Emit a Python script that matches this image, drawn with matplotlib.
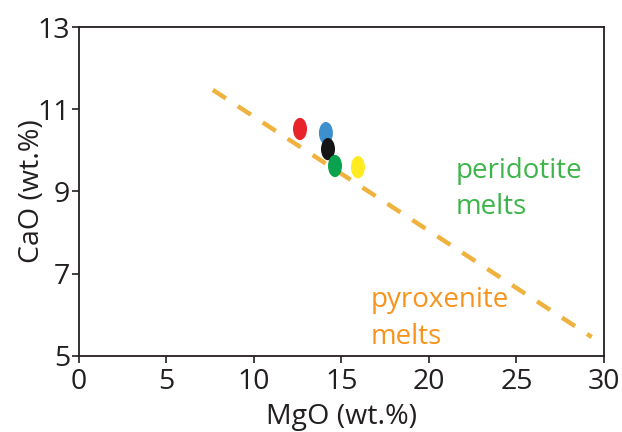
import numpy as np
import matplotlib.pyplot as plt
from matplotlib.patches import Ellipse

plt.rcParams['font.family'] = ['Open Sans', 'DejaVu Sans']

# sample compositions (MgO, CaO in wt.%)
mgo = [12.63, 14.11, 14.23, 14.63, 15.94]
cao = [10.52, 10.42, 10.03, 9.62, 9.59]
colors = ['#E8232A', '#3D8FCE', '#151515', '#0BA24E', '#FFEB1F']

# peridotite / pyroxenite divide
line_mgo = [7.65, 29.3]
line_cao = [11.47, 5.46]

fig = plt.figure(figsize=(6.22, 4.32), dpi=100)
ax = fig.add_axes([0.127, 0.176, 0.844, 0.7615])

ax.plot(line_mgo, line_cao, color='#F0B23E', lw=3.2, dashes=(3.5, 3.2), solid_capstyle='butt', zorder=1)

for x, y, c in zip(mgo, cao, colors):
    ax.add_patch(Ellipse((x, y), 0.8, 0.54, facecolor=c, edgecolor='none', zorder=2))

# field labels
ax.text(21.5, 9.33, 'peridotite', color='#3DB54A', fontsize=20, ha='left', va='baseline')
ax.text(21.5, 8.45, 'melts', color='#3DB54A', fontsize=20, ha='left', va='baseline')
ax.text(16.65, 6.19, 'pyroxenite', color='#F7941D', fontsize=20, ha='left', va='baseline')
ax.text(16.65, 5.29, 'melts', color='#F7941D', fontsize=20, ha='left', va='baseline')

ax.set_xlim(0, 30)
ax.set_ylim(5, 13)
ax.set_xticks([0, 5, 10, 15, 20, 25, 30])
ax.set_yticks([5, 7, 9, 11, 13])
ax.tick_params(labelsize=20.5, length=5, width=1.2, colors='#231F20')
ax.tick_params(axis='x', pad=4)
ax.tick_params(axis='y', pad=1.5)
for s in ax.spines.values():
    s.set_linewidth(1.3)
    s.set_color('#231F20')
ax.set_xlabel('MgO (wt.%)', fontsize=20.5, color='#231F20', labelpad=5)
ax.set_ylabel('CaO (wt.%)', fontsize=20.5, color='#231F20', labelpad=-6)

plt.savefig('out.png')
